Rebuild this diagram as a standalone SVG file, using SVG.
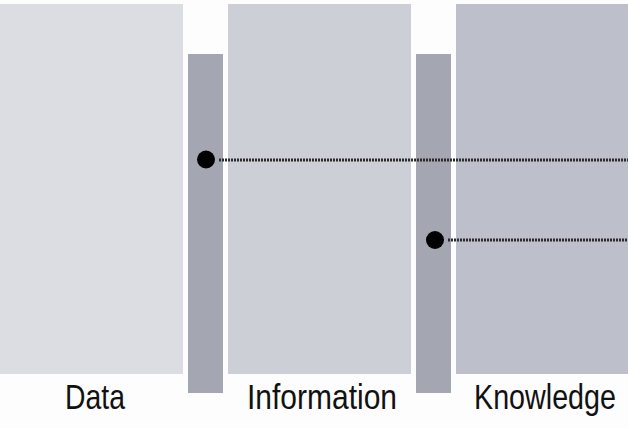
<svg xmlns="http://www.w3.org/2000/svg" width="628" height="428" viewBox="0 0 628 428">
<style>
.bar{fill:#a4a7b2}
.lbl{font-family:"Liberation Sans",Arial,sans-serif;font-size:35px;fill:#111;text-anchor:middle}
.conn{stroke:#2a2a2a;stroke-width:3;stroke-dasharray:2 1;fill:none}
.dot{fill:#000}
</style>
<rect width="628" height="428" fill="#fdfdfd"/>
<g id="data">
<rect x="0" y="4" width="183" height="370" fill="#dcdde2"/>
<text class="lbl" transform="translate(95,409) scale(0.81,1)">Data</text>
</g>
<g id="information">
<rect x="228" y="4" width="183" height="370" fill="#cdcfd7"/>
<text class="lbl" transform="translate(322,409) scale(0.857,1)">Information</text>
</g>
<g id="knowledge">
<rect x="456" y="4" width="172" height="370" fill="#bdbfcb"/>
<text class="lbl" transform="translate(545,409) scale(0.82,1)">Knowledge</text>
</g>
<g id="bar1"><rect class="bar" x="188" y="54" width="35" height="339"/></g>
<g id="bar2"><rect class="bar" x="416" y="54" width="35" height="339"/></g>
<g id="connectors">
<line class="conn" x1="219" y1="160" x2="628" y2="160"/>
<line class="conn" x1="448" y1="240" x2="628" y2="240"/>
<circle class="dot" cx="206" cy="159.5" r="9"/>
<circle class="dot" cx="435" cy="240" r="9"/>
</g>
</svg>
